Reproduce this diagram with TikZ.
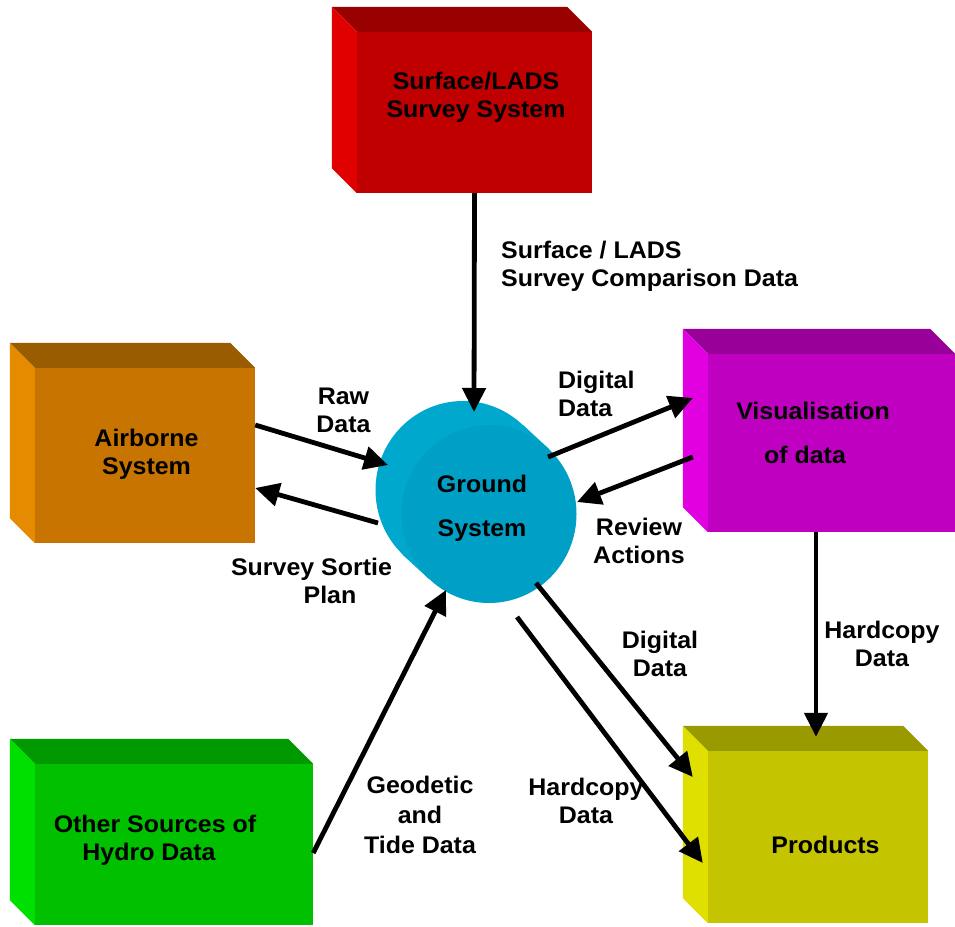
\documentclass[tikz,border=0pt]{standalone}
\usepackage{fontspec}
\setmainfont[FakeStretch=1.04]{Liberation Sans}
\usetikzlibrary{arrows.meta,shapes.geometric}
\definecolor{redF}{HTML}{C00000}\definecolor{redT}{HTML}{990000}\definecolor{redS}{HTML}{E00000}
\definecolor{orF}{HTML}{C87400}\definecolor{orT}{HTML}{995C00}\definecolor{orS}{HTML}{E68A00}
\definecolor{mgF}{HTML}{C000C0}\definecolor{mgT}{HTML}{990099}\definecolor{mgS}{HTML}{E000E0}
\definecolor{ylF}{HTML}{C4C400}\definecolor{ylT}{HTML}{999900}\definecolor{ylS}{HTML}{E0E000}
\definecolor{grF}{HTML}{00C000}\definecolor{grT}{HTML}{009900}\definecolor{grS}{HTML}{00E000}
\definecolor{cyF}{HTML}{00A0C6}\definecolor{cyS}{HTML}{00A8CE}
\newcommand\mkbox[8]{%
  \node[boxface=#6,minimum width=#4pt,minimum height=#5pt] (#1) at (#2,#3) {};
  \fill[#7] (#1.north west) -- ++(-25,-25) -- ([shift={(-25,-25)}]#1.north east) -- (#1.north east) -- cycle;
  \fill[#8] (#1.north west) -- ++(-25,-25) -- ([shift={(-25,-25)}]#1.south west) -- (#1.south west) -- cycle;
}
\begin{document}
\begin{tikzpicture}[x=1pt,y=-1pt,
  boxface/.style={rectangle,inner sep=0,draw=none,fill=#1},
  lbl/.style={font=\fontsize{24}{28.5}\selectfont\bfseries,inner sep=0,align=center,anchor=north},
  arr/.style={line width=4.8pt,-{Triangle[length=24pt,width=23pt]}}]
\useasboundingbox[fill=white] (0,0) rectangle (955,926);
% boxes
\mkbox{surf}{474.5}{112.5}{235}{161}{redF}{redT}{redS}
\mkbox{air}{145}{455.5}{220}{175}{orF}{orT}{orS}
\mkbox{vis}{831.5}{443}{247}{178}{mgF}{mgT}{mgS}
\mkbox{prod}{818}{837}{220}{172}{ylF}{ylT}{ylS}
\mkbox{oth}{174}{844.5}{278}{161}{grF}{grT}{grS}
% cylinder
\node[ellipse,inner sep=0,minimum width=175pt,minimum height=178pt,fill=cyS] (gsb) at (463,490) {};
\fill[cyS] (gsb.47) -- ([shift={(26,24)}]gsb.47) -- ([shift={(26,24)}]gsb.227) -- (gsb.227) -- cycle;
\node[ellipse,inner sep=0,minimum width=175pt,minimum height=178pt,fill=cyF] (gs) at (489,514) {};
% arrows
\draw[arr] (surf.south) -- ([shift={(-15pt,102pt)}]gs.center);
\draw[arr] ([yshift=30.5pt]air.east) -- ([shift={(-101pt,49pt)}]gs.center);
\draw[arr] ([shift={(-111pt,-9pt)}]gs.center) -- ([yshift=-32.5pt]air.east);
\draw[arr] ([shift={(59pt,57pt)}]gs.center) -- ([shift={(-15pt,45pt)}]vis.west);
\draw[arr] ([shift={(-15pt,-14pt)}]vis.west) -- ([shift={(88pt,12pt)}]gs.center);
\draw[arr] ([xshift=-15.5pt]vis.south) -- ([shift={(-2pt,14pt)}]prod.north);
\draw[arr] ([shift={(47pt,-69pt)}]gs.center) -- ([shift={(-15pt,60pt)}]prod.west);
\draw[arr] ([shift={(28pt,-103pt)}]gs.center) -- ([shift={(-5pt,-26pt)}]prod.west);
\draw[arr] ([yshift=-8.5pt]oth.east) -- ([shift={(-43pt,-76pt)}]gs.center);
% box texts
\node[lbl] (surf-t) at (476,71.5) {Surface/LADS\\Survey System};
\node[lbl] (air-t) at (146.5,428.5) {Airborne\\System};
\node[lbl] (vis-t) at (813,401.5) {Visualisation\\[16pt]of data\hspace*{16pt}};
\node[lbl] (prod-t) at (825.5,835.5) {Products};
\node[lbl] (oth-t) at (155,814.5) {Other Sources of\\Hydro Data\hspace*{12pt}};
\node[lbl] (gs-t) at (482,474.5) {Ground\\[16pt]System};
% connector labels
\node[lbl,anchor=north west,align=left] (l-surf) at (501,240.5) {Surface / LADS\\Survey Comparison Data};
\node[lbl] (l-raw) at (343.5,387.5) {Raw\\Data};
\node[lbl] (l-sortie) at (311.5,557.5) {Survey Sortie\\\hspace*{37pt}Plan};
\node[lbl,anchor=north west,align=left] (l-dig1) at (558,370.5) {Digital\\Data};
\node[lbl] (l-rev) at (639,517.5) {Review\\Actions};
\node[lbl] (l-hc1) at (882,620.5) {Hardcopy\\Data};
\node[lbl] (l-dig2) at (660,630.5) {Digital\\Data};
\node[lbl] (l-hc2) at (586,777.5) {Hardcopy\\Data};
\node[lbl,font=\fontsize{24}{30}\selectfont\bfseries] (l-geo) at (420,775.5) {Geodetic\\and\\Tide Data};
\end{tikzpicture}
\end{document}
